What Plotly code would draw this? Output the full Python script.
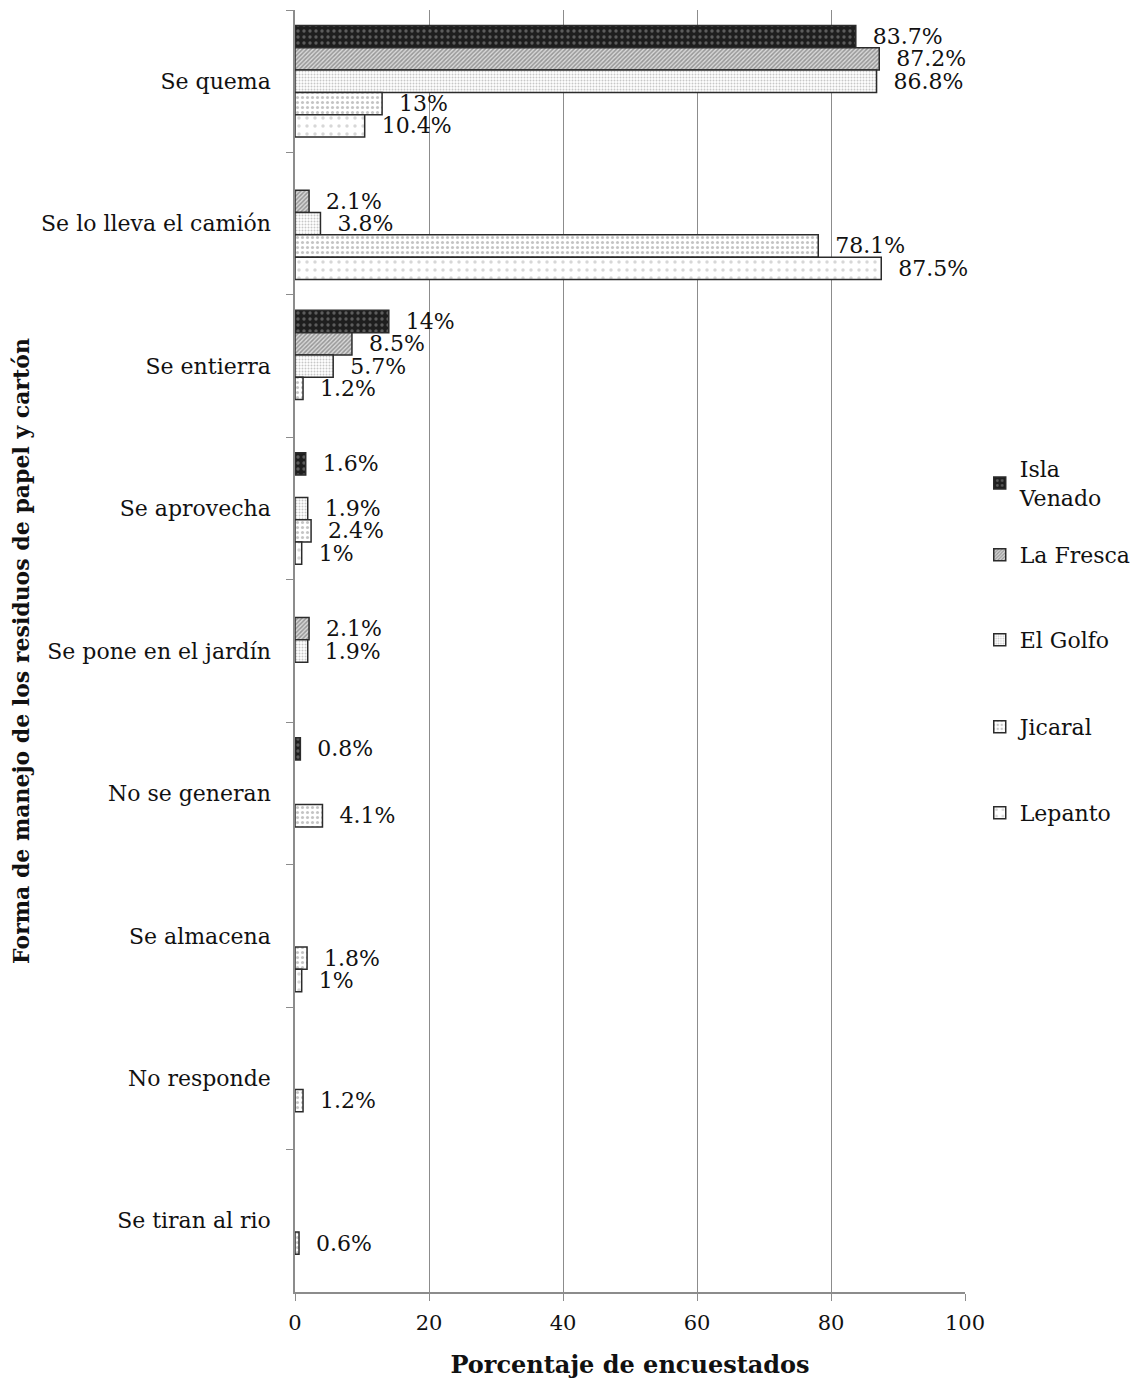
import plotly.graph_objects as go

# ── Data ──────────────────────────────────────────────────────────────────────

categories = [
    "Se quema",
    "Se lo lleva el camión",
    "Se entierra",
    "Se aprovecha",
    "Se pone en el jardín",
    "No se generan",
    "Se almacena",
    "No responde",
    "Se tiran al rio",
]

series_names = ["Isla<br>Venado", "La Fresca", "El Golfo", "Jicaral", "Lepanto"]

isla_venado = [83.7, None, 14, 1.6, None, 0.8, None, None, None]
la_fresca   = [87.2, 2.1, 8.5, None, 2.1, None, None, None, None]
el_golfo    = [86.8, 3.8, 5.7, 1.9, 1.9, None, None, None, None]
jicaral     = [13, 78.1, 1.2, 2.4, None, 4.1, 1.8, 1.2, 0.6]
lepanto     = [10.4, 87.5, None, 1, None, None, 1, None, None]

x_ticks = [0, 20, 40, 60, 80, 100]

# ── Styling ───────────────────────────────────────────────────────────────────

_FONT = "DejaVu Serif, Liberation Serif, serif"
_AXIS = "#8c8c8c"
_INK  = "#111111"

patterns = [
    dict(shape=".", bgcolor="#1e1e1e", fgcolor="#9a9a9a", size=6, solidity=0.25),
    dict(shape="/", bgcolor="#d8d8d8", fgcolor="#555555", size=3, solidity=0.5),
    dict(shape=".", bgcolor="#ffffff", fgcolor="#8f8f8f", size=3, solidity=0.35),
    dict(shape=".", bgcolor="#ffffff", fgcolor="#8a8a8a", size=5, solidity=0.3),
    dict(shape=".", bgcolor="#ffffff", fgcolor="#b0b0b0", size=8, solidity=0.15),
]

# one legend per series so the entries can be spread out like the original
legend_ids = ["legend", "legend2", "legend3", "legend4", "legend5"]
legend_y   = [0.6307, 0.5749, 0.5086, 0.4407, 0.3736]

all_series = [isla_venado, la_fresca, el_golfo, jicaral, lepanto]

fig = go.Figure()

for name, values, pat, leg in zip(series_names, all_series, patterns, legend_ids):
    # leading non-breaking spaces push the label away from the bar end
    labels = [f"\u00a0\u00a0{v:g}%" if v is not None else "" for v in values]
    fig.add_trace(go.Bar(
        y=categories,
        x=values,
        name=name,
        legend=leg,
        orientation="h",
        text=labels,
        textposition="outside",
        textfont=dict(family=_FONT, size=22, color=_INK),
        constraintext="none",
        cliponaxis=False,
        marker=dict(
            color=pat["bgcolor"],
            line=dict(color="#2b2b2b", width=1.5),
            pattern=dict(
                shape=pat["shape"],
                bgcolor=pat["bgcolor"],
                fgcolor=pat["fgcolor"],
                size=pat["size"],
                solidity=pat["solidity"],
            ),
        ),
    ))

legend_style = dict(
    x=1.022, xanchor="left", yanchor="middle",
    font=dict(family=_FONT, size=22, color=_INK),
    bgcolor="rgba(0,0,0,0)",
    itemwidth=30,
)

# page body has an 8px margin, so the figure is shrunk and shifted to suit
fig.update_layout(
    width=1134,
    height=1372,
    barmode="group",
    bargap=0.217,
    bargroupgap=0,
    plot_bgcolor="white",
    paper_bgcolor="white",
    font=dict(family=_FONT, size=22, color=_INK),
    margin=dict(l=287, r=177, t=2, b=88, autoexpand=False),
    showlegend=True,
    **{leg: dict(legend_style, y=ly) for leg, ly in zip(legend_ids, legend_y)},
    xaxis=dict(
        range=[0, 100],
        tickvals=x_ticks,
        showgrid=True,
        gridcolor=_AXIS,
        gridwidth=1.2,
        showline=True,
        linecolor=_AXIS,
        linewidth=1.5,
        ticks="outside",
        ticklen=7,
        tickcolor=_AXIS,
        zeroline=False,
        ticklabelstandoff=4,
        tickfont=dict(family=_FONT, size=21, color=_INK),
        title=dict(
            text="<b>Porcentaje de encuestados</b>",
            font=dict(family=_FONT, size=24, color=_INK),
            standoff=22,
        ),
    ),
    yaxis=dict(
        autorange="reversed",
        showline=True,
        linecolor=_AXIS,
        linewidth=1.5,
        ticks="outside",
        tickson="boundaries",
        ticklen=7,
        tickcolor=_AXIS,
        showgrid=False,
        ticklabelstandoff=18,
        tickfont=dict(family=_FONT, size=22, color=_INK),
        title=dict(
            text="<b>Forma de manejo de los residuos de papel y cartón</b>",
            font=dict(family=_FONT, size=22, color=_INK),
            standoff=8,
        ),
    ),
)

fig.write_html("out.html")
